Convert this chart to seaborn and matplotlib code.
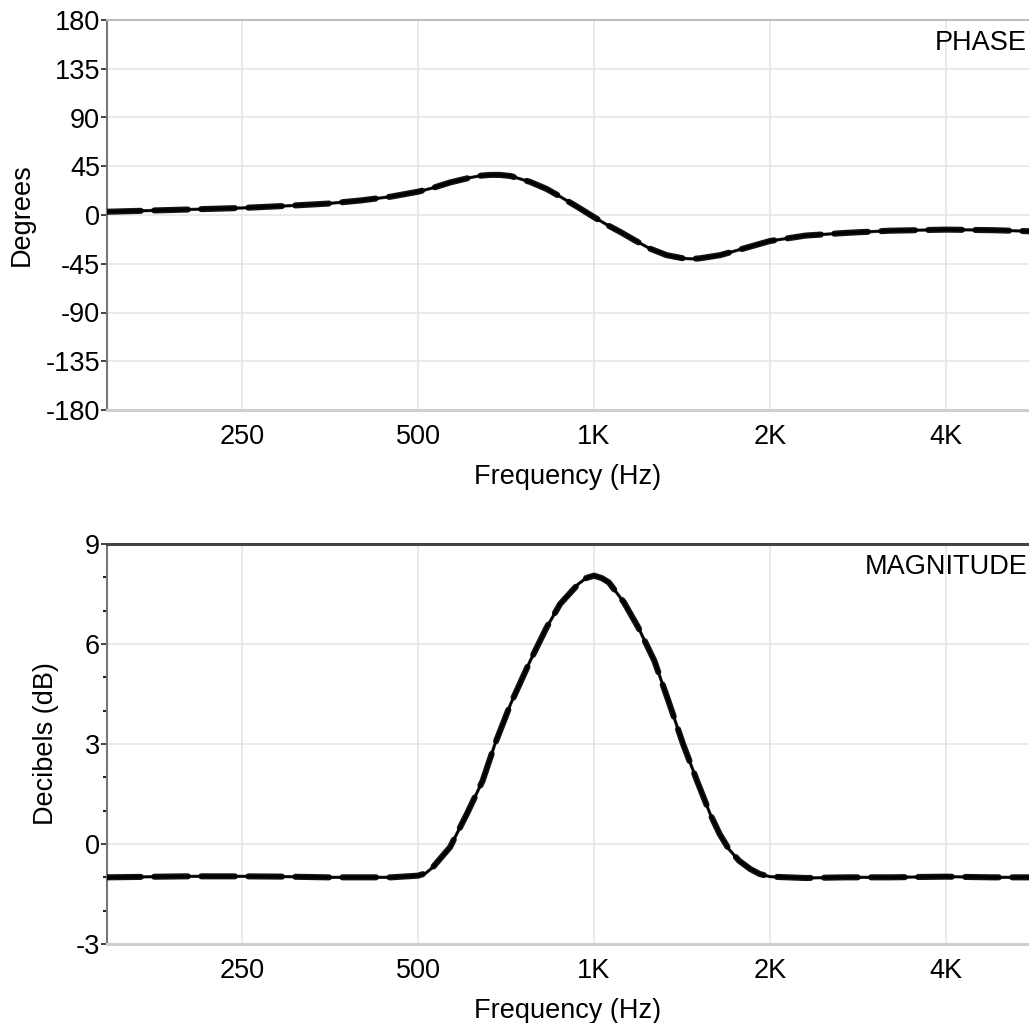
import numpy as np
import pandas as pd
import matplotlib
matplotlib.use("Agg")
import matplotlib.pyplot as plt
from matplotlib.ticker import FixedLocator, NullLocator, MultipleLocator
import seaborn as sns

# ---- data ----
phase_freq = [147, 200, 250, 300, 350, 400, 450, 500, 530, 567, 614, 640, 664, 690, 720, 778,
              830, 875, 940, 1000, 1060, 1108, 1180, 1246, 1330, 1420, 1470, 1517, 1645,
              1800, 2000, 2300, 2700, 3200, 4000, 4800, 5550]
phase_deg = [3, 5, 6.5, 8.5, 10.5, 13.5, 17, 21.5, 25, 30, 34.5, 36.3, 37, 37, 36, 30.5,
             24, 17, 7, -2, -10, -15.5, -24, -31, -37, -40, -40.5, -40, -37,
             -31, -24, -19, -16.5, -14.5, -13.5, -14, -15]

mag_freq = [147, 200, 250, 300, 350, 400, 450, 500, 515, 530, 545, 567, 606, 645, 677, 720,
            778, 830, 875, 940, 970, 1000, 1030, 1060, 1125, 1190, 1268, 1340, 1420, 1500,
            1580, 1640, 1700, 1770, 1850, 1920, 2000, 2300, 2700, 3200, 4000, 4800, 5550]
mag_db = [-1.0, -0.97, -0.97, -0.98, -1.0, -1.0, -1.0, -0.95, -0.88, -0.7, -0.45, -0.1, 0.9, 1.9, 3.0, 4.2,
          5.5, 6.5, 7.2, 7.8, 7.98, 8.05, 7.98, 7.85, 7.25, 6.5, 5.5, 4.3, 3.0, 1.9,
          0.9, 0.3, -0.15, -0.5, -0.75, -0.9, -0.98, -1.02, -1.0, -1.0, -0.98, -1.0, -1.0]

x_ticks = [250, 500, 1000, 2000, 4000]
x_tick_labels = ["250", "500", "1K", "2K", "4K"]
phase_ticks = [-180, -135, -90, -45, 0, 45, 90, 135, 180]
mag_ticks = [-3, 0, 3, 6, 9]

sns.set_theme(style="white")
plt.rcParams["font.family"] = ["Liberation Sans", "DejaVu Sans"]
plt.rcParams["text.color"] = "black"
plt.rcParams["axes.labelcolor"] = "black"
plt.rcParams["xtick.color"] = "black"
plt.rcParams["ytick.color"] = "black"
FS = 19.5

fig = plt.figure(figsize=(10.29, 10.23), dpi=100)
ax1 = fig.add_axes([107 / 1029, 1 - 410 / 1023, 922 / 1029, 390 / 1023])
ax2 = fig.add_axes([107 / 1029, 1 - 944 / 1023, 922 / 1029, 400 / 1023])

phase_df = pd.DataFrame({"Frequency": phase_freq, "Value": phase_deg})
mag_df = pd.DataFrame({"Frequency": mag_freq, "Value": mag_db})


def draw(ax, df):
    sns.lineplot(data=df, x="Frequency", y="Value", ax=ax, color="#606060",
                 lw=2.4, sort=False, zorder=3)
    sns.lineplot(data=df, x="Frequency", y="Value", ax=ax, color="black",
                 lw=1.7, sort=False, zorder=4)
    sns.lineplot(data=df, x="Frequency", y="Value", ax=ax, color="black",
                 lw=4.4, sort=False, zorder=5)
    ln = ax.lines[-1]
    ln.set_dashes([5.5, 2.2])
    ln.set_dash_capstyle("round")
    ln.set_alpha(0.92)


draw(ax1, phase_df)
draw(ax2, mag_df)

for ax in (ax1, ax2):
    ax.set_xscale("log")
    ax.set_xlim(146.9, 5546)
    ax.xaxis.set_major_locator(FixedLocator(x_ticks))
    ax.xaxis.set_minor_locator(NullLocator())
    ax.set_xticklabels(x_tick_labels)
    ax.grid(True, which="major", color="#e4e4e4", lw=1.1, zorder=0)
    ax.set_axisbelow(True)
    ax.set_xlabel("Frequency (Hz)", fontsize=FS, labelpad=10)
    ax.tick_params(axis="x", length=0, pad=10, labelsize=FS, colors="black")
    ax.tick_params(axis="y", which="major", length=4, width=1.2, color="#222222",
                   pad=1, labelsize=FS, left=True, labelcolor="black")
    ax.spines["left"].set_color("#777777")
    ax.spines["left"].set_linewidth(1.5)
    ax.spines["bottom"].set_color("#cfcfcf")
    ax.spines["bottom"].set_linewidth(2.2)
    ax.spines["right"].set_visible(False)

ax1.set_ylim(-180, 180)
ax1.yaxis.set_major_locator(FixedLocator(phase_ticks))
ax1.set_yticklabels([str(t) for t in phase_ticks])
ax1.set_ylabel("Degrees", fontsize=FS, labelpad=8)
ax1.spines["top"].set_color("#bdbdbd")
ax1.spines["top"].set_linewidth(1.5)
ax1.text(0.998, 0.975, "PHASE", transform=ax1.transAxes, ha="right", va="top",
         fontsize=FS, color="black")

ax2.set_ylim(-3, 9)
ax2.yaxis.set_major_locator(FixedLocator(mag_ticks))
ax2.yaxis.set_minor_locator(MultipleLocator(1))
ax2.set_yticklabels([str(t) for t in mag_ticks])
ax2.tick_params(axis="y", which="minor", length=3, width=1.5, color="#222222", left=True)
ax2.set_ylabel("Decibels (dB)", fontsize=FS, labelpad=12)
ax2.spines["top"].set_color("#444444")
ax2.spines["top"].set_linewidth(2.2)
ax2.text(0.998, 0.975, "MAGNITUDE", transform=ax2.transAxes, ha="right", va="top",
         fontsize=FS, color="black")

fig.savefig("out.png", dpi=100, facecolor="white")
